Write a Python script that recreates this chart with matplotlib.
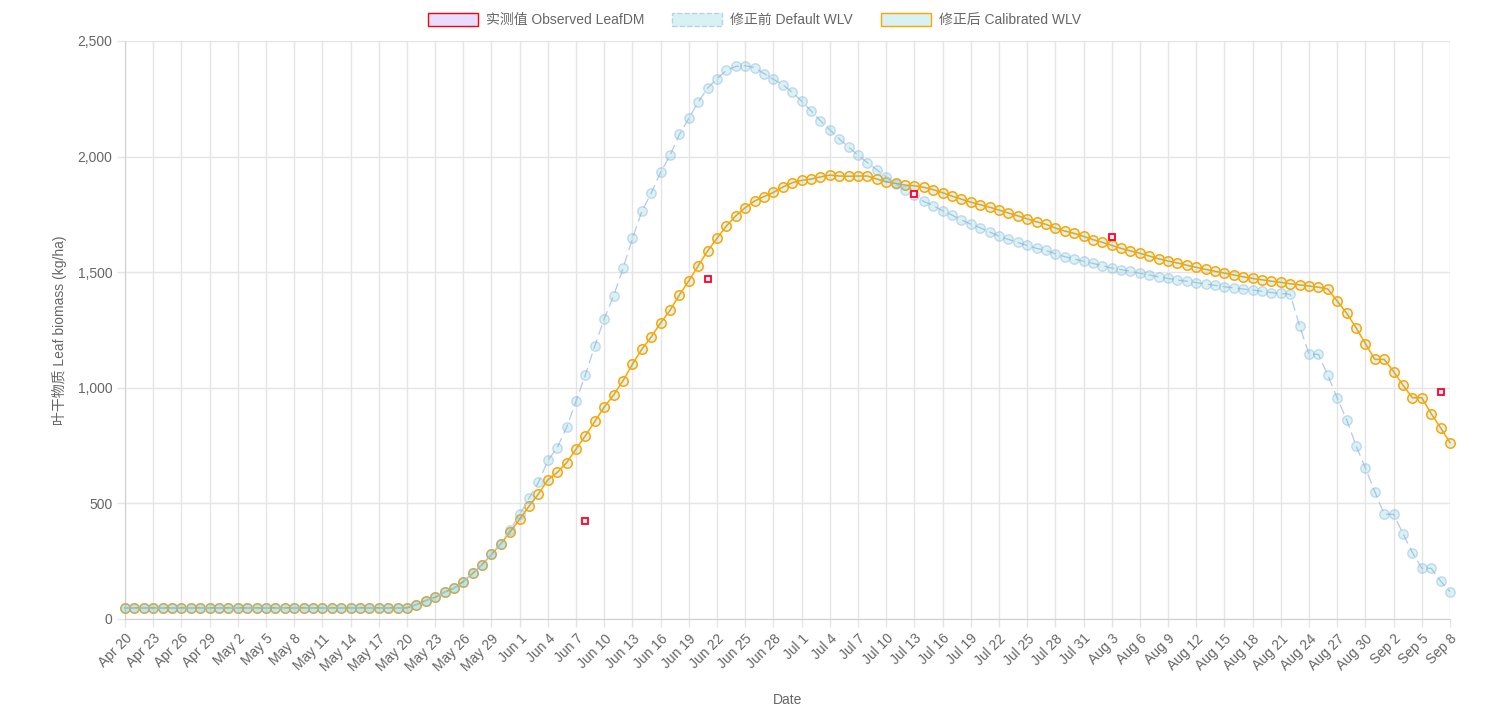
import numpy as np
import pandas as pd
import matplotlib
matplotlib.use("Agg")
import matplotlib.pyplot as plt
from matplotlib.patches import Patch

plt.rcParams['font.family'] = ['Liberation Sans', 'Noto Sans CJK SC', 'DejaVu Sans']

# daily dates, Apr 20 .. Sep 8
dates = pd.date_range('2024-04-20', '2024-09-08', freq='D')

# simulated leaf biomass (kg/ha), one value per day
default_wlv = [48] * 31 + [
    62, 79, 93, 115, 133, 162, 197, 235, 279, 326,
    387, 452, 523, 591, 686, 741, 829, 943, 1057, 1182,
    1299, 1398, 1517, 1646, 1763, 1842, 1933, 2005, 2096, 2166,
    2236, 2296, 2337, 2373, 2390, 2393, 2385, 2359, 2334, 2311,
    2278, 2240, 2198, 2155, 2116, 2077, 2041, 2007, 1974, 1943,
    1913, 1883, 1857, 1832, 1806, 1788, 1766, 1747, 1726, 1708,
    1692, 1674, 1656, 1642, 1629, 1616, 1603, 1594, 1580, 1567,
    1557, 1547, 1538, 1528, 1518, 1511, 1504, 1495, 1488, 1480,
    1473, 1466, 1461, 1455, 1449, 1443, 1437, 1432, 1427, 1423,
    1417, 1412, 1408, 1404, 1267, 1145, 1145, 1054, 955, 862,
    750, 652, 551, 453, 453, 369, 287, 219, 219, 164, 118]

calibrated_wlv = [48] * 31 + [
    62, 80, 94, 116, 133, 162, 197, 235, 279, 326,
    377, 432, 488, 541, 602, 634, 676, 735, 793, 855,
    917, 969, 1031, 1102, 1167, 1220, 1281, 1335, 1402, 1463,
    1528, 1592, 1647, 1700, 1744, 1779, 1808, 1827, 1845, 1868,
    1887, 1897, 1903, 1912, 1920, 1916, 1915, 1916, 1916, 1903,
    1891, 1884, 1877, 1874, 1867, 1857, 1844, 1829, 1816, 1803,
    1792, 1781, 1769, 1756, 1744, 1731, 1718, 1707, 1691, 1678,
    1668, 1655, 1641, 1629, 1616, 1603, 1592, 1582, 1570, 1558,
    1548, 1540, 1530, 1521, 1512, 1504, 1496, 1488, 1480, 1473,
    1467, 1461, 1456, 1450, 1445, 1440, 1435, 1427, 1375, 1323,
    1260, 1191, 1123, 1123, 1070, 1011, 957, 957, 888, 827, 763]

# field measurements
obs_dates = ['2024-06-08', '2024-06-21', '2024-07-13', '2024-08-03', '2024-09-07']
obs_leafdm = [424, 1470, 1838, 1652, 982]

x = np.arange(len(dates))
obs_x = [dates.get_loc(pd.Timestamp(d)) for d in obs_dates]

grey = '#666666'
gridc = '#e5e5e5'

fig = plt.figure(figsize=(15.09, 7.2), dpi=100)
ax = fig.add_axes([125 / 1509, 101 / 720, 1325 / 1509, 578 / 720])

cyan_fill = (0.29, 0.75, 0.75, 0.2)

ax.plot(x, calibrated_wlv, color='#ffa500', lw=1.1, marker='o', ms=6.8,
        mfc=cyan_fill, mec='#ffa500', mew=1.1, zorder=3, clip_on=False)
ax.plot(x, default_wlv, color='#b3c9ee', lw=0.9, dashes=(8, 4), marker='o', ms=6.8,
        mfc=cyan_fill, mec=(0.55, 0.7, 0.9, 0.45), mew=1.0, zorder=4, clip_on=False)
ax.plot(obs_x, obs_leafdm, ls='none', marker='s', ms=4.5, mfc='#f2e8ff',
        mec='#ff0022', mew=1.3, zorder=5, clip_on=False)

ax.set_xlim(0, len(dates) - 1)
ax.set_ylim(0, 2500)
ax.set_yticks(np.arange(0, 2501, 500))
ax.yaxis.set_major_formatter(matplotlib.ticker.FuncFormatter(lambda v, p: f'{int(v):,}'))

tick_idx = x[::3]
ax.set_xticks(tick_idx)
ax.set_xticklabels([f"{dates[i]:%b} {dates[i].day}" for i in tick_idx],
                   rotation=45, ha='right', rotation_mode='anchor')

ax.grid(True, color=gridc, lw=1)
ax.set_axisbelow(True)
for s in ['top', 'right']:
    ax.spines[s].set_visible(False)
for s in ['left', 'bottom']:
    ax.spines[s].set_color('#d0d0d0')
ax.tick_params(axis='both', length=6, width=1, color=gridc, labelcolor=grey,
               labelsize=10, pad=3)

ax.set_xlabel('Date', color=grey, fontsize=10, labelpad=14)
ax.set_ylabel('叶干物质 Leaf biomass (kg/ha)', color=grey, fontsize=10, labelpad=8)

handles = [
    Patch(facecolor='#e8ddff', edgecolor='#ff0000', lw=1),
    Patch(facecolor='#d8f1f3', edgecolor='#b8d0f0', lw=1, linestyle='--'),
    Patch(facecolor='#d8f1f3', edgecolor='#ffa500', lw=1),
]
labels = ['实测值 Observed LeafDM', '修正前 Default WLV', '修正后 Calibrated WLV']
fig.legend(handles, labels, loc='upper center', bbox_to_anchor=(0.5, 1.0), ncol=3,
           frameon=False, fontsize=10, labelcolor=grey, handlelength=3.6,
           handleheight=1.1, handletextpad=0.6, columnspacing=2.0)

fig.savefig('out.png', dpi=100)
